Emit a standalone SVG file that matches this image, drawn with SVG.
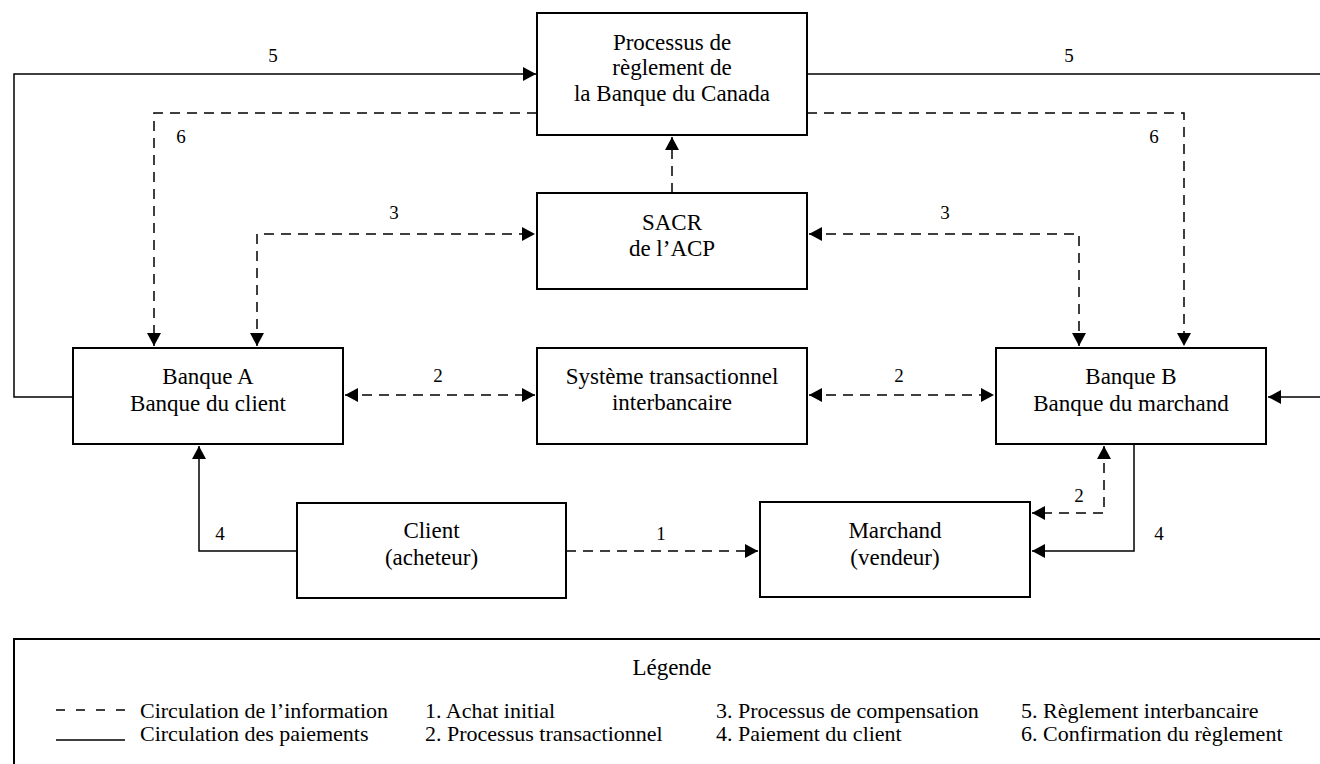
<svg xmlns="http://www.w3.org/2000/svg" width="1320" height="764" viewBox="0 0 1320 764">
<style>
.box{fill:#fff;stroke:#000;stroke-width:2}
.t{font-family:"Liberation Serif","Times New Roman",serif;font-size:23px;fill:#000;text-anchor:middle}
.lbl{font-family:"Liberation Serif","Times New Roman",serif;font-size:19px;fill:#000;text-anchor:middle}
.lg{font-family:"Liberation Serif","Times New Roman",serif;font-size:22px;fill:#000}
.s{fill:none;stroke:#000;stroke-width:1.5}
.d{fill:none;stroke:#000;stroke-width:1.5;stroke-dasharray:10 7}
</style>
<defs>
<marker id="ah" markerUnits="userSpaceOnUse" markerWidth="14" markerHeight="14" refX="13" refY="7" orient="auto-start-reverse">
<path d="M0,0 L13,7 L0,14 z" fill="#000"/>
</marker>
</defs>
<rect width="1320" height="764" fill="#fff"/>

<g id="connectors">
<!-- 5 left -->
<polyline class="s" points="73,397 14,397 14,74 536,74" marker-end="url(#ah)"/>
<!-- 5 right -->
<polyline class="s" points="807,74 1322,74"/>
<polyline class="s" points="1322,397 1268,397" marker-end="url(#ah)"/>
<!-- 6 left -->
<polyline class="d" points="537,113 154,113 154,346" marker-end="url(#ah)"/>
<!-- 6 right -->
<polyline class="d" points="807,113 1184,113 1184,346" marker-end="url(#ah)"/>
<!-- SACR to BoC -->
<polyline class="d" points="672,193 672,137" marker-end="url(#ah)"/>
<!-- 3 left -->
<polyline class="d" points="257,346 257,234 535,234" marker-start="url(#ah)" marker-end="url(#ah)"/>
<!-- 3 right -->
<polyline class="d" points="809,234 1079,234 1079,346" marker-start="url(#ah)" marker-end="url(#ah)"/>
<!-- 2 left -->
<polyline class="d" points="345,395 535,395" marker-start="url(#ah)" marker-end="url(#ah)"/>
<!-- 2 right -->
<polyline class="d" points="809,395 994,395" marker-start="url(#ah)" marker-end="url(#ah)"/>
<!-- 4 left -->
<polyline class="s" points="297,551 199,551 199,446" marker-end="url(#ah)"/>
<!-- 1 -->
<polyline class="d" points="566,551 758,551" marker-end="url(#ah)"/>
<!-- 2 bottom right -->
<polyline class="d" points="1104,446 1104,513 1032,513" marker-start="url(#ah)" marker-end="url(#ah)"/>
<!-- 4 right -->
<polyline class="s" points="1134,444 1134,551 1032,551" marker-end="url(#ah)"/>

<text class="lbl" x="273" y="62">5</text>
<text class="lbl" x="1069" y="62">5</text>
<text class="lbl" x="181" y="143">6</text>
<text class="lbl" x="1154" y="143">6</text>
<text class="lbl" x="394" y="219">3</text>
<text class="lbl" x="945" y="219">3</text>
<text class="lbl" x="438" y="382">2</text>
<text class="lbl" x="899" y="382">2</text>
<text class="lbl" x="220" y="540">4</text>
<text class="lbl" x="661" y="540">1</text>
<text class="lbl" x="1079" y="502">2</text>
<text class="lbl" x="1159" y="540">4</text>
</g>

<g id="boc">
<rect class="box" x="537" y="13" width="270" height="122"/>
<text class="t" x="672" y="50">Processus de</text>
<text class="t" x="672" y="75">règlement de</text>
<text class="t" x="672" y="101">la Banque du Canada</text>
</g>
<g id="sacr">
<rect class="box" x="537" y="193" width="270" height="96"/>
<text class="t" x="672" y="230">SACR</text>
<text class="t" x="672" y="256">de l’ACP</text>
</g>
<g id="banqueA">
<rect class="box" x="73" y="348" width="270" height="96"/>
<text class="t" x="208" y="384">Banque A</text>
<text class="t" x="208" y="411">Banque du client</text>
</g>
<g id="systeme">
<rect class="box" x="537" y="348" width="270" height="96"/>
<text class="t" x="672" y="384">Système transactionnel</text>
<text class="t" x="672" y="410">interbancaire</text>
</g>
<g id="banqueB">
<rect class="box" x="996" y="348" width="270" height="96"/>
<text class="t" x="1131" y="384">Banque B</text>
<text class="t" x="1131" y="411">Banque du marchand</text>
</g>
<g id="client">
<rect class="box" x="297" y="503" width="269" height="95"/>
<text class="t" x="431.5" y="538">Client</text>
<text class="t" x="431.5" y="565">(acheteur)</text>
</g>
<g id="marchand">
<rect class="box" x="760" y="502" width="270" height="95"/>
<text class="t" x="895" y="538">Marchand</text>
<text class="t" x="895" y="565">(vendeur)</text>
</g>

<g id="legend">
<rect class="box" x="14" y="639" width="1320" height="140"/>
<text class="t" x="672" y="675">Légende</text>
<line x1="56" y1="710" x2="125" y2="710" stroke="#000" stroke-width="1.5" stroke-dasharray="9 11"/>
<line x1="56" y1="740" x2="125" y2="740" stroke="#000" stroke-width="1.5"/>
<text class="lg" x="140" y="718">Circulation de l’information</text>
<text class="lg" x="140" y="741">Circulation des paiements</text>
<text class="lg" x="425" y="718">1. Achat initial</text>
<text class="lg" x="425" y="741">2. Processus transactionnel</text>
<text class="lg" x="716" y="718">3. Processus de compensation</text>
<text class="lg" x="716" y="741">4. Paiement du client</text>
<text class="lg" x="1021" y="718">5. Règlement interbancaire</text>
<text class="lg" x="1021" y="741">6. Confirmation du règlement</text>
</g>
</svg>
